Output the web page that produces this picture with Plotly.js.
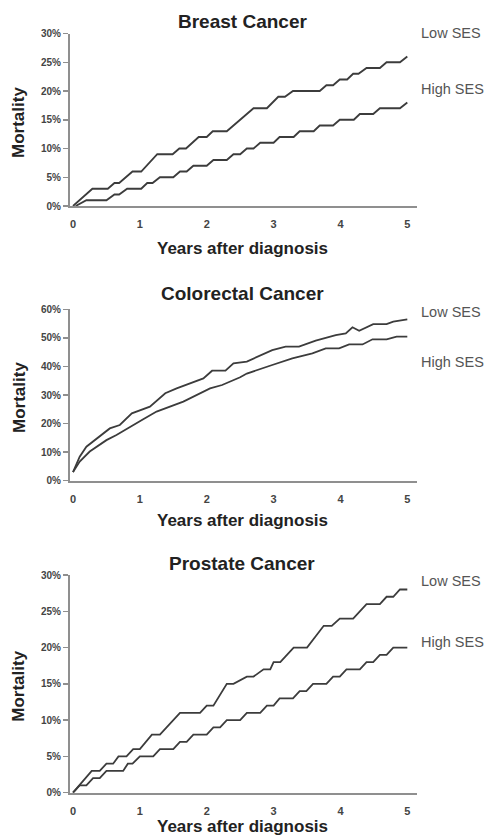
<!DOCTYPE html>
<html>
<head>
<meta charset="utf-8">
<script src="https://cdn.plot.ly/plotly-3.0.1.min.js"></script>
<style>html,body{margin:0;padding:0;background:#fff}#chart{width:485px;height:836px}</style>
</head>
<body>
<div id="chart"></div>
<script>
// ---- Data (mortality in %, time in years after diagnosis) ----
var panelTitles = ["Breast Cancer", "Colorectal Cancer", "Prostate Cancer"];
var seriesNames = ["Low SES", "High SES"];
var xTickValues = [0, 1, 2, 3, 4, 5];

var breastLowYears = [0,0.29,0.52,0.62,0.69,0.89,1.02,1.26,1.49,1.59,1.69,1.88,2.0,2.09,2.3,2.7,2.9,3.07,3.17,3.29,3.69,3.79,3.89,3.99,4.1,4.19,4.27,4.39,4.59,4.69,4.89,5.0];
var breastLowMortality = [0,3,3,4,4,6,6,9,9,10,10,12,12,13,13,17,17,19,19,20,20,21,21,22,22,23,23,24,24,25,25,26];
var breastHighYears = [0.04,0.2,0.5,0.62,0.69,0.81,1.02,1.11,1.19,1.3,1.5,1.6,1.7,1.8,2.0,2.1,2.3,2.4,2.5,2.6,2.7,2.8,3.0,3.09,3.3,3.39,3.6,3.69,3.89,3.99,4.2,4.29,4.49,4.59,4.89,5.0];
var breastHighMortality = [0,1,1,2,2,3,3,4,4,5,5,6,6,7,7,8,8,9,9,10,10,11,11,12,12,13,13,14,14,15,15,16,16,17,17,18];

var colorectalLowYears = [0,0.05,0.1,0.2,0.4,0.55,0.7,0.88,1.15,1.38,1.55,1.95,2.08,2.28,2.4,2.6,2.98,3.18,3.38,3.63,3.93,4.08,4.18,4.28,4.49,4.69,4.79,5.0];
var colorectalLowMortality = [3,6,8.4,11.9,15.4,18.3,19.5,23.6,25.9,30.6,32.3,35.8,38.5,38.5,41.1,41.7,45.7,46.9,46.9,49,51,51.6,53.7,52.5,54.8,54.8,55.7,56.5];
var colorectalHighYears = [0,0.05,0.1,0.25,0.5,0.65,0.85,1.05,1.25,1.65,2.05,2.23,2.5,2.6,2.98,3.28,3.58,3.78,3.98,4.13,4.33,4.48,4.69,4.84,5.0];
var colorectalHighMortality = [3,5,6.7,10.2,14.2,16,18.9,21.5,24.2,27.7,32.3,33.5,36.2,37.5,40.5,42.8,44.6,46.3,46.3,47.7,47.7,49.5,49.5,50.4,50.4];

var prostateLowYears = [0,0.28,0.4,0.5,0.6,0.68,0.8,0.9,1.0,1.18,1.3,1.6,1.9,2.0,2.1,2.3,2.4,2.6,2.7,2.85,2.95,3.0,3.1,3.3,3.5,3.75,3.87,3.99,4.19,4.39,4.59,4.69,4.79,4.89,5.0];
var prostateLowMortality = [0,3,3,4,4,5,5,6,6,8,8,11,11,12,12,15,15,16,16,17,17,18,18,20,20,23,23,24,24,26,26,27,27,28,28];
var prostateHighYears = [0,0.1,0.2,0.3,0.4,0.5,0.75,0.82,0.89,1.0,1.2,1.3,1.5,1.6,1.7,1.8,2.0,2.1,2.2,2.3,2.5,2.6,2.8,2.9,3.0,3.09,3.29,3.39,3.49,3.59,3.79,3.89,3.99,4.09,4.29,4.39,4.49,4.59,4.69,4.79,5.0];
var prostateHighMortality = [0,1,1,2,2,3,3,4,4,5,5,6,6,7,7,8,8,9,9,10,10,11,11,12,12,13,13,14,14,15,15,16,16,17,17,18,18,19,19,20,20];

var yRangesMax = [30, 60, 30];
var yTickSteps = [5, 10, 5];

// ---- Build figure ----
var lineStyle = {color: '#3c3c3c', width: 1.8, shape: 'linear'};
var series = [
  [[breastLowYears, breastLowMortality], [breastHighYears, breastHighMortality]],
  [[colorectalLowYears, colorectalLowMortality], [colorectalHighYears, colorectalHighMortality]],
  [[prostateLowYears, prostateLowMortality], [prostateHighYears, prostateHighMortality]]
];

var W = 485, H = 836;
function px(x) { return x / W; }
function py(y) { return 1 - y / H; }

// pixel geometry of each panel: [top, bottom]
var panelPx = [[33.5, 206], [309.3, 480.7], [575, 792.7]];
var titleY = [22, 293, 563.3];
var xTitleY = [248, 520, 826.5];
var yTitleY = [123, 398, 686.7];
var lowLabelY = [33, 311.7, 580.7];
var highLabelY = [89, 361.7, 641.7];

var traces = [];
var layout = {
  width: W, height: H,
  margin: {l: 0, r: 0, t: 0, b: 0},
  paper_bgcolor: '#ffffff', plot_bgcolor: '#ffffff',
  showlegend: false,
  font: {family: 'Liberation Sans, Arial, sans-serif', color: '#333'},
  annotations: []
};

var axisColor = '#8f8f8f';
for (var i = 0; i < 3; i++) {
  var xa = i === 0 ? 'x' : 'x' + (i + 1);
  var ya = i === 0 ? 'y' : 'y' + (i + 1);
  for (var s = 0; s < 2; s++) {
    traces.push({
      x: series[i][s][0], y: series[i][s][1],
      xaxis: xa, yaxis: ya, type: 'scatter', mode: 'lines',
      name: seriesNames[s], line: lineStyle, hoverinfo: 'skip'
    });
  }
  var xKey = i === 0 ? 'xaxis' : 'xaxis' + (i + 1);
  var yKey = i === 0 ? 'yaxis' : 'yaxis' + (i + 1);
  layout[xKey] = {
    domain: [px(70), px(417)], anchor: ya,
    range: [-0.045, 5.145], tickvals: xTickValues,
    showgrid: false, zeroline: false,
    showline: true, linecolor: axisColor, linewidth: 2,
    ticks: '', ticklabelstandoff: 7,
    tickfont: {size: 11, weight: 'bold', color: '#444'}
  };
  layout[yKey] = {
    domain: [py(panelPx[i][1]), py(panelPx[i][0])], anchor: xa,
    range: [0, yRangesMax[i]], dtick: yTickSteps[i], tick0: 0, ticksuffix: '%',
    showgrid: false, zeroline: false,
    showline: true, linecolor: axisColor, linewidth: 2,
    ticks: 'outside', ticklen: 5, tickwidth: 1.5, tickcolor: axisColor,
    tickfont: {size: 10, weight: 'bold', color: '#444'}
  };
  layout.annotations.push(
    {text: panelTitles[i], xref: 'paper', yref: 'paper', x: px(242), y: py(titleY[i]),
     xanchor: 'center', yanchor: 'middle', showarrow: false,
     font: {size: 19, weight: 'bold', color: '#222'}},
    {text: 'Years after diagnosis', xref: 'paper', yref: 'paper', x: px(242), y: py(xTitleY[i]),
     xanchor: 'center', yanchor: 'middle', showarrow: false,
     font: {size: 17, weight: 'bold', color: '#222'}},
    {text: 'Mortality', xref: 'paper', yref: 'paper', x: px(19), y: py(yTitleY[i]),
     xanchor: 'center', yanchor: 'middle', textangle: -90, showarrow: false,
     font: {size: 17, weight: 'bold', color: '#222'}},
    {text: seriesNames[0], xref: 'paper', yref: 'paper', x: px(419), y: py(lowLabelY[i]),
     xanchor: 'left', yanchor: 'middle', showarrow: false,
     font: {size: 14.5, color: '#555'}},
    {text: seriesNames[1], xref: 'paper', yref: 'paper', x: px(419), y: py(highLabelY[i]),
     xanchor: 'left', yanchor: 'middle', showarrow: false,
     font: {size: 14.5, color: '#555'}}
  );
}

Plotly.newPlot('chart', traces, layout, {staticPlot: true, displayModeBar: false});
</script>
</body>
</html>
